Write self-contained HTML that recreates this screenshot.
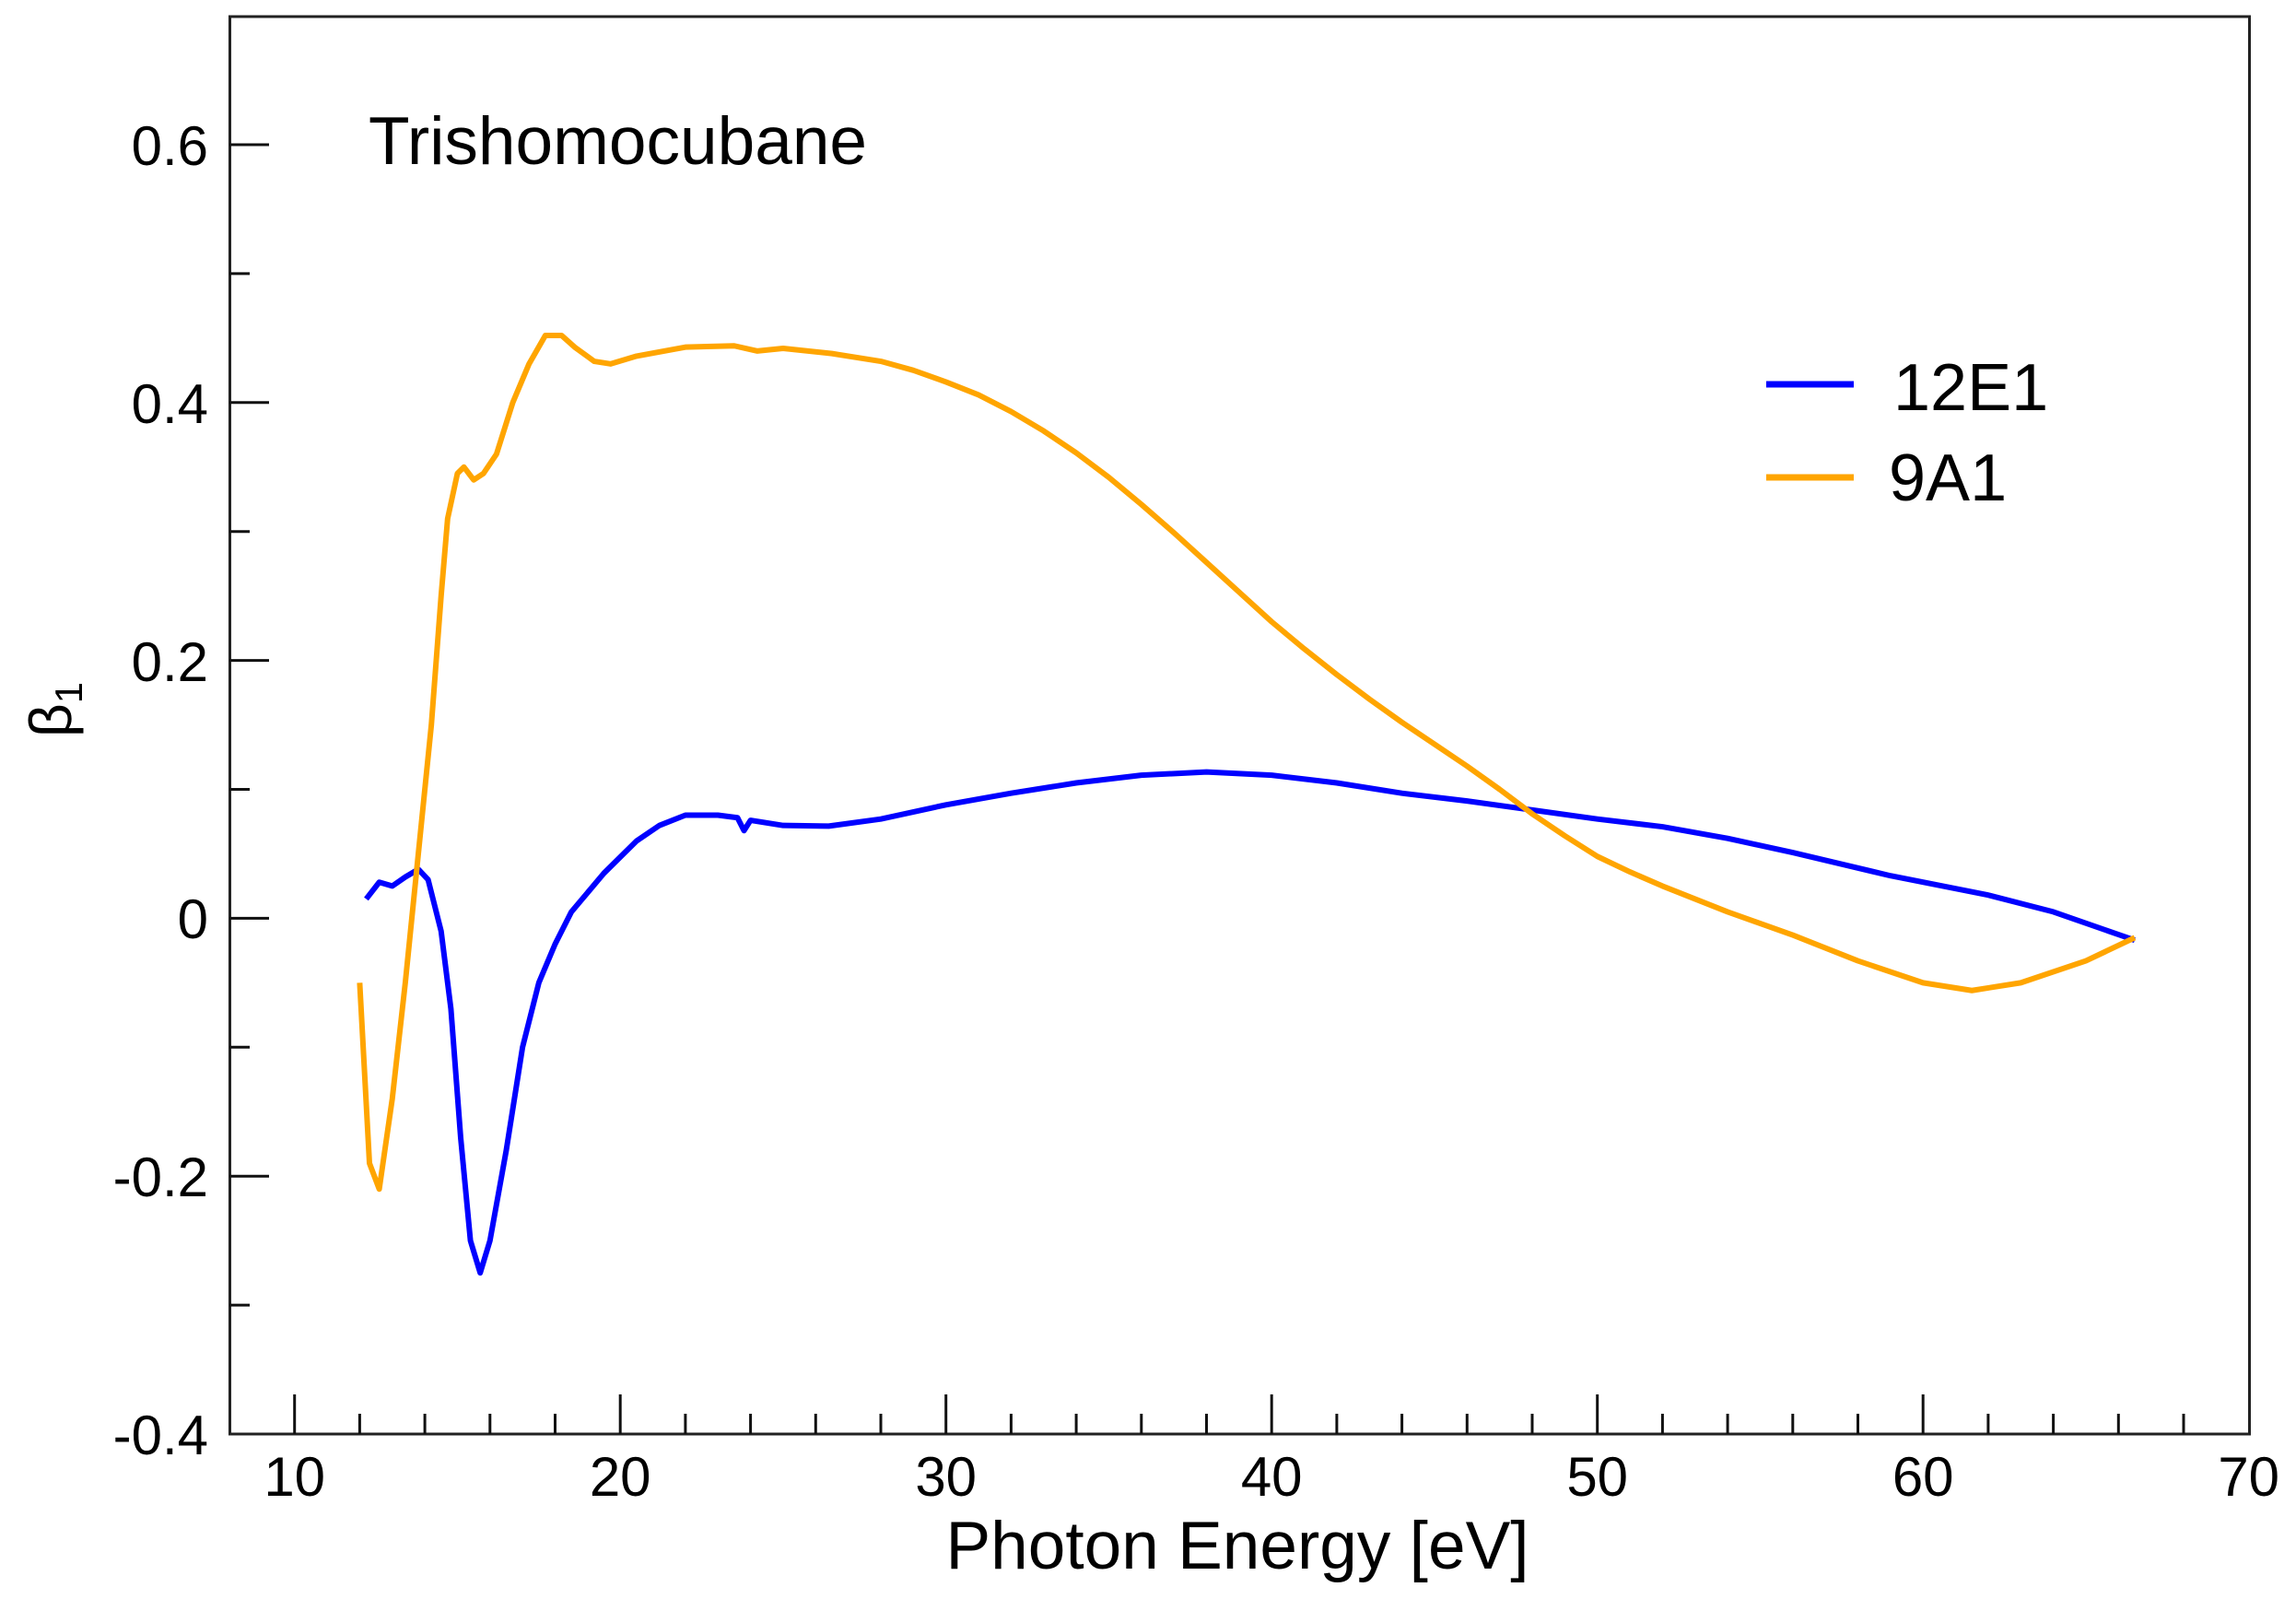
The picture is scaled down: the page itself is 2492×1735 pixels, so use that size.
<!DOCTYPE html>
<html><head><meta charset="utf-8"><style>
html,body{margin:0;padding:0;background:#fff;}
svg{display:block;}
text{font-family:"Liberation Sans",Arial,sans-serif;fill:#000;}
</style></head><body>
<svg width="2492" height="1735" viewBox="0 0 2492 1735" xmlns="http://www.w3.org/2000/svg">
<rect width="2492" height="1735" fill="#fff"/>
<rect x="249.5" y="18" width="2192" height="1538" fill="none" stroke="#222" stroke-width="3"/>
<g stroke="#111" stroke-width="3">
<line x1="319.7" y1="1556" x2="319.7" y2="1513"/>
<line x1="673.2" y1="1556" x2="673.2" y2="1513"/>
<line x1="1026.7" y1="1556" x2="1026.7" y2="1513"/>
<line x1="1380.2" y1="1556" x2="1380.2" y2="1513"/>
<line x1="1733.7" y1="1556" x2="1733.7" y2="1513"/>
<line x1="2087.2" y1="1556" x2="2087.2" y2="1513"/>
<line x1="390.4" y1="1556" x2="390.4" y2="1534"/><line x1="461.1" y1="1556" x2="461.1" y2="1534"/><line x1="531.8" y1="1556" x2="531.8" y2="1534"/><line x1="602.5" y1="1556" x2="602.5" y2="1534"/>
<line x1="743.9" y1="1556" x2="743.9" y2="1534"/><line x1="814.6" y1="1556" x2="814.6" y2="1534"/><line x1="885.3" y1="1556" x2="885.3" y2="1534"/><line x1="956" y1="1556" x2="956" y2="1534"/>
<line x1="1097.4" y1="1556" x2="1097.4" y2="1534"/><line x1="1168.1" y1="1556" x2="1168.1" y2="1534"/><line x1="1238.8" y1="1556" x2="1238.8" y2="1534"/><line x1="1309.5" y1="1556" x2="1309.5" y2="1534"/>
<line x1="1450.9" y1="1556" x2="1450.9" y2="1534"/><line x1="1521.6" y1="1556" x2="1521.6" y2="1534"/><line x1="1592.3" y1="1556" x2="1592.3" y2="1534"/><line x1="1663" y1="1556" x2="1663" y2="1534"/>
<line x1="1804.4" y1="1556" x2="1804.4" y2="1534"/><line x1="1875.1" y1="1556" x2="1875.1" y2="1534"/><line x1="1945.8" y1="1556" x2="1945.8" y2="1534"/><line x1="2016.5" y1="1556" x2="2016.5" y2="1534"/>
<line x1="2157.9" y1="1556" x2="2157.9" y2="1534"/><line x1="2228.6" y1="1556" x2="2228.6" y2="1534"/><line x1="2299.3" y1="1556" x2="2299.3" y2="1534"/><line x1="2370" y1="1556" x2="2370" y2="1534"/>
<line x1="249.5" y1="157" x2="292" y2="157"/>
<line x1="249.5" y1="436.8" x2="292" y2="436.8"/>
<line x1="249.5" y1="716.6" x2="292" y2="716.6"/>
<line x1="249.5" y1="996.4" x2="292" y2="996.4"/>
<line x1="249.5" y1="1276.2" x2="292" y2="1276.2"/>
<line x1="249.5" y1="296.9" x2="271" y2="296.9"/>
<line x1="249.5" y1="576.7" x2="271" y2="576.7"/>
<line x1="249.5" y1="856.5" x2="271" y2="856.5"/>
<line x1="249.5" y1="1136.3" x2="271" y2="1136.3"/>
<line x1="249.5" y1="1416.1" x2="271" y2="1416.1"/>
</g>
<g font-size="60" text-anchor="end">
<text x="226" y="179">0.6</text>
<text x="226" y="459">0.4</text>
<text x="226" y="739">0.2</text>
<text x="226" y="1018">0</text>
<text x="226" y="1298">-0.2</text>
<text x="226" y="1578">-0.4</text>
</g>
<g font-size="60" text-anchor="middle">
<text x="319.7" y="1623">10</text>
<text x="673.2" y="1623">20</text>
<text x="1026.7" y="1623">30</text>
<text x="1380.2" y="1623">40</text>
<text x="1733.7" y="1623">50</text>
<text x="2087.2" y="1623">60</text>
<text x="2440.7" y="1623">70</text>
</g>
<text x="1343" y="1702" font-size="73" text-anchor="middle">Photon Energy [eV]</text>
<text transform="translate(77,800) rotate(-90)" font-size="64">β<tspan font-size="42" dy="12">1</tspan></text>
<text x="400" y="178" font-size="73">Trishomocubane</text>
<line x1="1917" y1="417" x2="2012" y2="417" stroke="#0000ff" stroke-width="7"/>
<line x1="1917" y1="518" x2="2012" y2="518" stroke="#ffa500" stroke-width="7"/>
<text x="2055" y="445" font-size="72">12E1</text>
<text x="2050" y="543" font-size="72">9A1</text>
<g transform="matrix(35.35 0 0 -1399 -33.8 996.4)" fill="none" stroke-linejoin="round">
<polyline vector-effect="non-scaling-stroke" stroke="#0000ff" stroke-width="6" points="12.2,0.015 12.6,0.028 13.0,0.025 13.4,0.032 13.8,0.038 14.1,0.03 14.5,-0.01 14.8,-0.07 15.1,-0.17 15.4,-0.25 15.7,-0.275 16.0,-0.25 16.5,-0.18 17.0,-0.10 17.5,-0.05 18.0,-0.02 18.5,0.005 19.5,0.035 20.5,0.06 21.2,0.072 22.0,0.08 23.0,0.08 23.6,0.078 23.8,0.068 24.0,0.076 25,0.072 26.4,0.0715 28,0.077 30,0.088 32,0.097 34,0.105 36,0.111 38,0.1135 40,0.111 42,0.105 44,0.097 46,0.091 48,0.084 50,0.077 52,0.071 54,0.062 56,0.051 59,0.033 62,0.018 64,0.005 66.5,-0.017"/>
<polyline vector-effect="non-scaling-stroke" stroke="#ffa500" stroke-width="6" points="12.0,-0.05 12.3,-0.19 12.6,-0.21 13.0,-0.14 13.4,-0.05 13.8,0.05 14.2,0.15 14.5,0.25 14.7,0.31 15.0,0.345 15.2,0.35 15.5,0.34 15.8,0.345 16.2,0.36 16.7,0.40 17.2,0.43 17.7,0.452 18.2,0.452 18.6,0.443 19.2,0.432 19.7,0.43 20.5,0.436 22,0.443 23.5,0.444 24.2,0.44 25,0.442 26.5,0.438 28,0.432 29,0.425 30,0.416 31,0.406 32,0.393 33,0.378 34,0.361 35,0.342 36,0.321 37,0.299 38,0.276 39,0.253 40,0.23 41,0.209 42,0.189 43,0.17 44,0.152 45,0.135 46,0.118 47,0.1 48,0.081 49,0.064 50,0.048 51,0.036 52,0.025 54,0.005 56,-0.013 58,-0.033 60,-0.05 61.5,-0.056 63,-0.05 65,-0.033 66.5,-0.015"/>
</g>
</svg>
</body></html>
